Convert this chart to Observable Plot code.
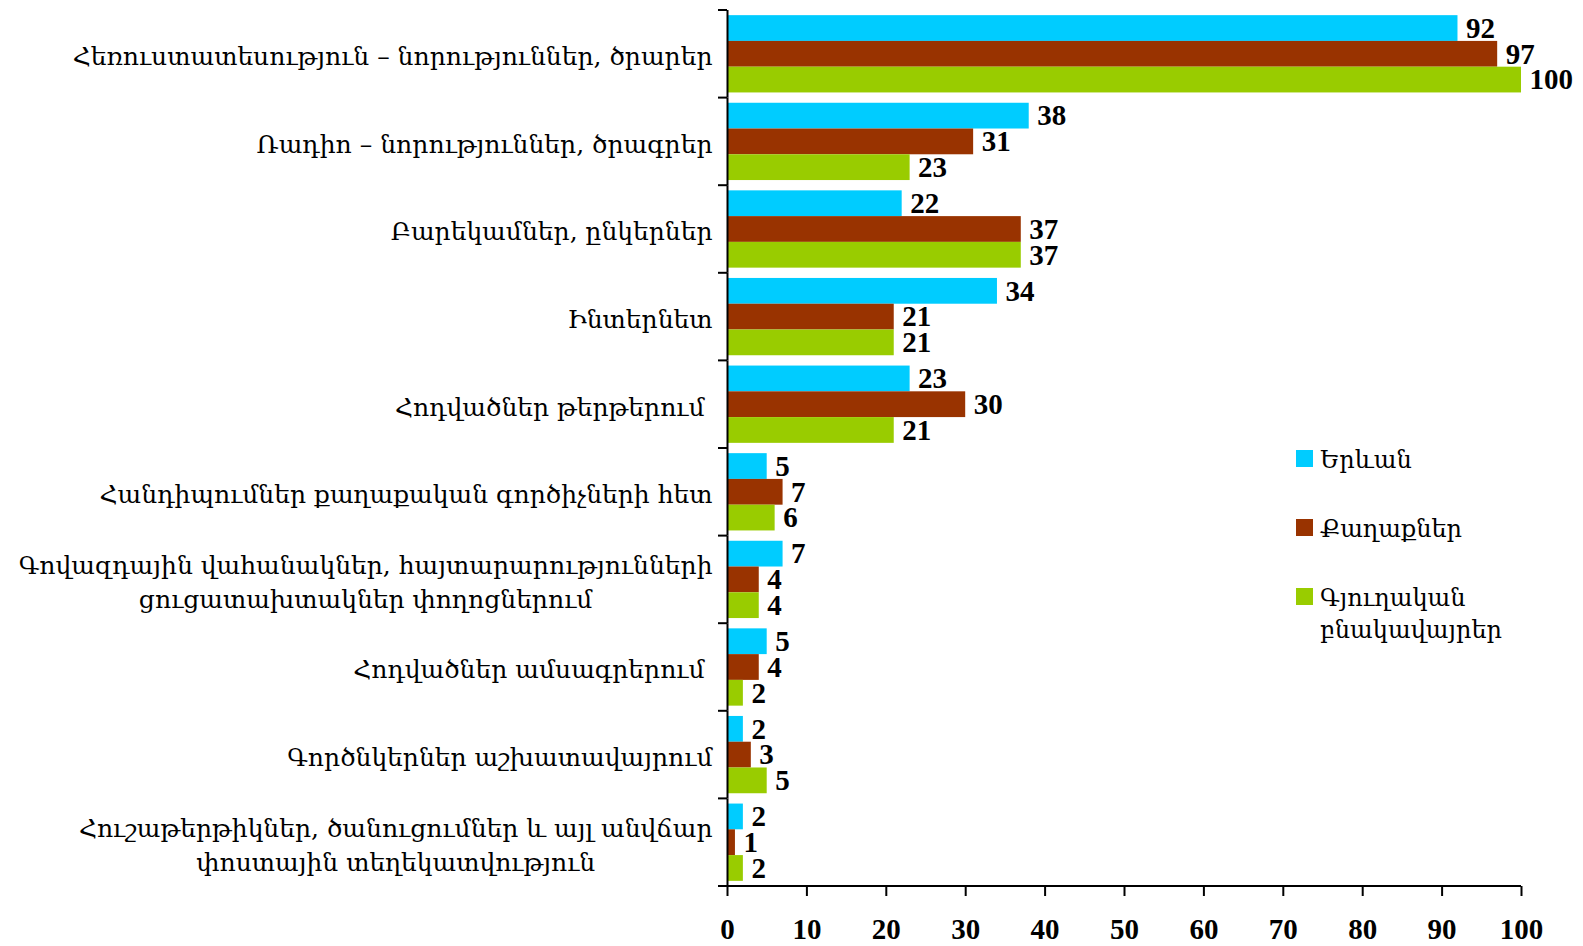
<!DOCTYPE html>
<html><head><meta charset="utf-8">
<script src="https://cdn.jsdelivr.net/npm/d3@7"></script>
<script src="https://cdn.jsdelivr.net/npm/@observablehq/plot@0.6"></script>
<style>
body{margin:0;background:#fff;}
#wrap{position:relative;width:1583px;height:946px;}
#legend{position:absolute;left:1296px;top:444px;font-family:"DejaVu Serif";font-size:24px;color:#000;}
.item{display:flex;align-items:flex-start;line-height:32px;margin-bottom:37px;}
.sw{width:17px;height:17px;margin-top:6px;margin-right:7px;flex:none;}
</style>
</head><body><div id="wrap"><div id="legend"></div></div>
<script>
const categories = [
  "Հեռուստատեսություն – նորություններ, ծրարեր",
  "Ռադիո – նորություններ, ծրագրեր",
  "Բարեկամներ, ընկերներ",
  "Ինտերնետ",
  "Հոդվածներ թերթերում\u00A0",
  "Հանդիպումներ քաղաքական գործիչների հետ",
  "Գովազդային վահանակներ, հայտարարությունների\nցուցատախտակներ փողոցներում",
  "Հոդվածներ ամսագրերում\u00A0",
  "Գործնկերներ աշխատավայրում",
  "Հուշաթերթիկներ, ծանուցումներ և այլ անվճար\nփոստային տեղեկատվություն"
];
const series = ["Երևան", "Քաղաքներ", "Գյուղական\nբնակավայրեր"];
const yerevan  = [92, 38, 22, 34, 23, 5, 7, 5, 2, 2];
const cities   = [97, 31, 37, 21, 30, 7, 4, 4, 3, 1];
const villages = [100, 23, 37, 21, 21, 6, 4, 2, 5, 2];
const colors = ["#00CCFF", "#993300", "#99CC00"];
const xTicks = [0, 10, 20, 30, 40, 50, 60, 70, 80, 90, 100];

const values = [yerevan, cities, villages];
const data = categories.flatMap((c, i) => series.map((s, j) => ({cat: c, s, v: values[j][i]})));

const chart = Plot.plot({
  width: 1583, height: 946,
  marginLeft: 727, marginRight: 62, marginTop: 10, marginBottom: 60,
  style: {fontFamily: "DejaVu Serif", background: "white", color: "black"},
  x: {domain: [0, 100]},
  fy: {domain: categories, padding: 0, round: false},
  y: {domain: series, paddingInner: 0, paddingOuter: 0.2, round: false, axis: null},
  color: {domain: series, range: colors},
  marks: [
    Plot.barX(data, {fy: "cat", y: "s", x: "v", fill: "s", insetLeft: 1}),
    Plot.text(data, {fy: "cat", y: "s", x: "v", text: d => String(d.v), textAnchor: "start", dx: 8,
      fontSize: 29, fontWeight: "bold", fontFamily: "Liberation Serif", fill: "black"}),
    Plot.ruleX([0], {stroke: "black", strokeWidth: 2}),
    Plot.axisFy({anchor: "left", tickSize: 0, tickPadding: 15, fontSize: 25, lineHeight: 1.37, label: null}),
    Plot.axisX({anchor: "bottom", ticks: xTicks, tickSize: 10, tickPadding: 22, fontSize: 29, fontWeight: "bold",
      fontFamily: "Liberation Serif", label: null, tickFormat: d => String(d), strokeWidth: 2})
  ]
});
document.getElementById("wrap").prepend(chart);

// boundary ticks and bottom axis line, from the plot's scales
const sx = chart.scale("x"), sfy = chart.scale("fy");
const svg = d3.select(chart);
const x0 = sx.apply(0), x100 = sx.apply(100);
const bounds = categories.map(c => sfy.apply(c));
const yEnd = sfy.apply(categories[categories.length - 1]) + sfy.bandwidth;
const g = svg.append("g").attr("stroke", "black").attr("stroke-width", 2);
bounds.forEach(y => g.append("line").attr("x1", x0 - 9).attr("x2", x0).attr("y1", y).attr("y2", y));
g.append("line").attr("x1", x0 - 9).attr("x2", x100).attr("y1", yEnd).attr("y2", yEnd);

// center multi-line category labels within their block
svg.selectAll("text").each(function() {
  const tsp = this.querySelectorAll("tspan");
  if (tsp.length > 1 && categories.includes([...tsp].map(t => t.textContent).join("\n"))) {
    const w = Math.max(...[...tsp].map(t => t.getComputedTextLength()));
    this.setAttribute("text-anchor", "middle");
    tsp.forEach(t => t.setAttribute("x", -w / 2));
  }
});

// legend
const leg = d3.select("#legend");
series.forEach((s, i) => {
  const it = leg.append("div").attr("class", "item");
  it.append("div").attr("class", "sw").style("background", colors[i]);
  it.append("div").html(s.replace("\n", "<br>"));
});
</script>
</body></html>
